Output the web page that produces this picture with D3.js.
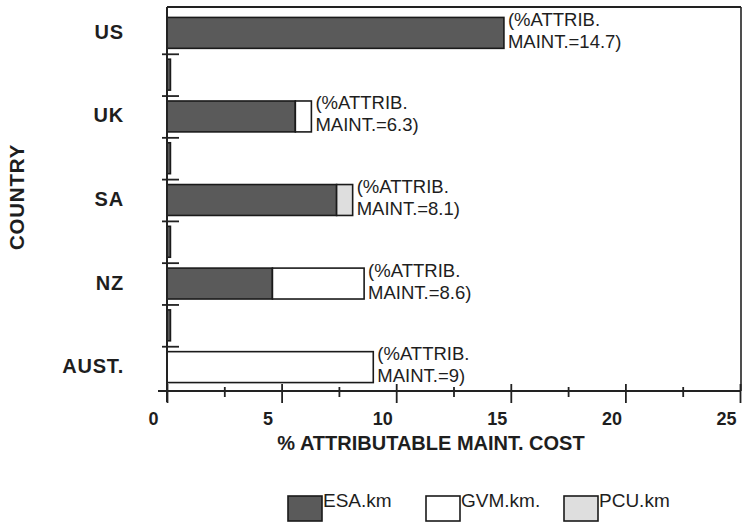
<!DOCTYPE html>
<html>
<head>
<meta charset="utf-8">
<script src="https://cdn.jsdelivr.net/npm/d3@7"></script>
<style>
  html, body { margin: 0; padding: 0; background: #fff; }
  svg { display: block; }
  text { font-family: "Liberation Sans", Arial, Helvetica, sans-serif; fill: #1e1e1e; }
</style>
</head>
<body>
<svg id="chart" width="743" height="522"></svg>
<script>
// ---- data (rows top to bottom; blank rows are the thin spacer rows) ----
const rowLabels = ["US", "", "UK", "", "SA", "", "NZ", "", "AUST."];
const esaKm = [14.7, 0.15, 5.6, 0.15, 7.4, 0.15, 4.6, 0.15, 0];
const gvmKm = [0, 0, 0.7, 0, 0, 0, 4.0, 0, 9.0];
const pcuKm = [0, 0, 0, 0, 0.7, 0, 0, 0, 0];
const attribMaint = ["14.7", null, "6.3", null, "8.1", null, "8.6", null, "9"];
const seriesNames = ["ESA.km", "GVM.km.", "PCU.km"];
const xTickValues = [0, 2.5, 5, 7.5, 10, 12.5, 15, 17.5, 20, 22.5, 25];
const xLabelValues = [0, 5, 10, 15, 20, 25];
const xTitle = "% ATTRIBUTABLE MAINT. COST";
const yTitle = "COUNTRY";

const fills = { "ESA.km": "#5a5a5a", "GVM.km.": "#ffffff", "PCU.km": "#dedede" };

const svg = d3.select("#chart");
const mLeft = 167, mRight = 740, mTop = 7, mBottom = 391;

const rows = d3.range(rowLabels.length);
const x = d3.scaleLinear().domain([0, 25]).range([mLeft, mRight]);
const y = d3.scaleBand().domain(rows).range([12, 388]).paddingInner(0).paddingOuter(0);
const yLin = d3.scaleLinear().domain([0, rows.length]).range([12, 388]);
const barH = y.bandwidth() * 0.74;

// ---- stacked bars ----
const stackInput = rows.map(i => ({ i, "ESA.km": esaKm[i], "GVM.km.": gvmKm[i], "PCU.km": pcuKm[i] }));
const stacked = d3.stack().keys(seriesNames)(stackInput);

const g = svg.append("g");
stacked.forEach(layer => {
  g.selectAll(null)
    .data(layer.filter(d => d[1] - d[0] > 0))
    .enter().append("rect")
    .attr("x", d => x(d[0]))
    .attr("width", d => x(d[1]) - x(d[0]))
    .attr("y", d => y(d.data.i) + (y.bandwidth() - barH) / 2)
    .attr("height", barH)
    .attr("fill", fills[layer.key])
    .attr("stroke", "#1a1a1a")
    .attr("stroke-width", 1.6);
});

// ---- frame (top / right) ----
svg.append("line").attr("x1", mLeft).attr("x2", mRight + 1).attr("y1", mTop).attr("y2", mTop)
  .attr("stroke", "#222").attr("stroke-width", 1.8);
svg.append("line").attr("x1", mRight + 1).attr("x2", mRight + 1).attr("y1", mTop).attr("y2", mBottom)
  .attr("stroke", "#222").attr("stroke-width", 1.6);

// ---- x axis ----
const xAxis = svg.append("g").attr("transform", `translate(0,${mBottom})`)
  .call(d3.axisBottom(x).tickValues(xTickValues)
    .tickFormat(d => xLabelValues.includes(d) ? d3.format("d")(d) : "")
    .tickSizeOuter(0));
xAxis.select(".domain").attr("d", `M${mLeft - 9},0H${mRight + 1}`).attr("stroke", "#222").attr("stroke-width", 1.8);
xAxis.selectAll(".tick line")
  .attr("y1", d => xLabelValues.includes(d) ? -7 : -4)
  .attr("y2", d => xLabelValues.includes(d) ? 12 : 6)
  .attr("stroke", "#222").attr("stroke-width", 1.8);
xAxis.selectAll(".tick text")
  .attr("y", 34).attr("dy", null).attr("dx", -14)
  .attr("font-size", 18).attr("font-weight", "bold")
  .style("font-family", '"Liberation Sans", Arial, sans-serif').attr("fill", "#1e1e1e");

// ---- y axis (boundary ticks) ----
const yAxis = svg.append("g").attr("transform", `translate(${mLeft},0)`)
  .call(d3.axisLeft(yLin).tickValues(d3.range(1, rows.length)).tickFormat("").tickSizeOuter(0));
yAxis.select(".domain").attr("d", `M0,${mTop}V${mBottom + 11}`).attr("stroke", "#222").attr("stroke-width", 2);
yAxis.selectAll(".tick line").attr("x1", -5).attr("x2", 12).attr("stroke", "#222").attr("stroke-width", 1.8);

// ---- category labels ----
const yLab = svg.append("g").attr("transform", `translate(${mLeft},0)`)
  .call(d3.axisLeft(y).tickSize(0).tickPadding(43).tickFormat(i => rowLabels[i]));
yLab.select(".domain").remove();
yLab.selectAll(".tick text")
  .attr("font-size", 20).attr("font-weight", "bold").attr("letter-spacing", 0.8)
  .attr("dy", "0.3em")
  .style("font-family", '"Liberation Sans", Arial, sans-serif').attr("fill", "#1e1e1e");

// ---- annotations ----
const ann = svg.append("g");
rows.filter(i => attribMaint[i] !== null).forEach(i => {
  const total = esaKm[i] + gvmKm[i] + pcuKm[i];
  const cy = y(i) + y.bandwidth() / 2;
  const t = ann.append("text").attr("x", x(total) + 4).attr("font-size", 18.5);
  t.append("tspan").attr("x", x(total) + 4).attr("y", cy - 7).text("(%ATTRIB.");
  t.append("tspan").attr("x", x(total) + 4).attr("y", cy + 15).text(`MAINT.=${attribMaint[i]})`);
});

// ---- axis titles ----
svg.append("text").attr("x", 431).attr("y", 450).attr("text-anchor", "middle")
  .attr("font-size", 20).attr("font-weight", "bold").text(xTitle);
svg.append("text").attr("transform", "translate(24,197) rotate(-90)").attr("text-anchor", "middle")
  .attr("font-size", 20.5).attr("font-weight", "bold").attr("letter-spacing", 0.8).text(yTitle);

// ---- legend ----
const lx = d3.scaleBand().domain(seriesNames).range([288, 702]);
const leg = svg.append("g").selectAll("g").data(seriesNames).enter().append("g")
  .attr("transform", d => `translate(${lx(d)},496)`);
leg.append("rect").attr("width", 34).attr("height", 25)
  .attr("fill", d => fills[d]).attr("stroke", "#1a1a1a").attr("stroke-width", 1.6);
leg.append("text").attr("x", 35).attr("y", 11).attr("font-size", 19).text(d => d);
</script>
</body>
</html>
